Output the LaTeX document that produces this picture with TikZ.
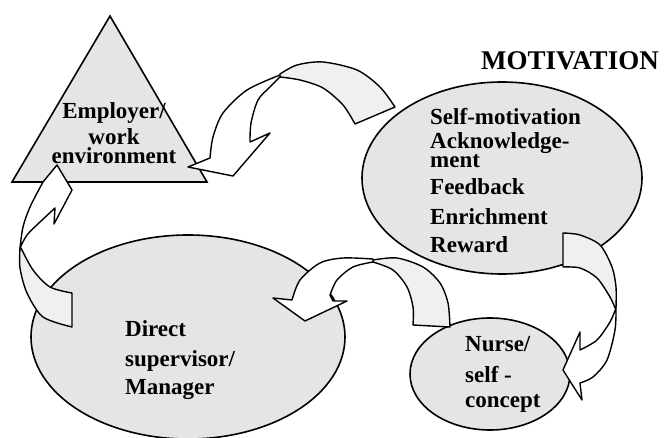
\documentclass[tikz,border=0pt]{standalone}
\usepackage{fontspec}
\setmainfont{Liberation Serif}
\usetikzlibrary{shapes.geometric}
\begin{document}
\begin{tikzpicture}[x=1pt,y=-1pt,
  shapeline/.style={draw=black,line width=1.6pt,fill=black!10},
  blob/.style={shapeline,ellipse,inner sep=0pt},
  tailband/.style={draw=black,line width=1.4pt,line join=round,fill=black!6},
  frontband/.style={draw=black,line width=1.4pt,line join=round,fill=white},
  lbl/.style={anchor=base,inner sep=0pt,font=\fontsize{23}{23}\selectfont\bfseries},
  lbll/.style={anchor=base west,inner sep=0pt,font=\fontsize{23}{23}\selectfont\bfseries}]
\useasboundingbox (0,0) rectangle (665,438);
% triangle
\coordinate (tA) at (110,16);
\coordinate (tB) at (12,182);
\coordinate (tC) at (207,182);
\draw[shapeline,line join=miter] (tA) -- (tB) -- (tC) -- cycle;
% ellipses
\node[blob,minimum width=280pt,minimum height=192pt] (motiv) at (502,178) {};
\node[blob,minimum width=314pt,minimum height=204pt] (super) at (188,337) {};
\node[blob,minimum width=160pt,minimum height=112pt] (nurse) at (490,374) {};
% arrow 1: motivation -> employer
\draw[tailband] plot[smooth] coordinates {(280,74) (297,65) (323,62) (357,70) (380,87) (395,107)}
  -- (355,124) -- plot[smooth] coordinates {(355,124) (343,105) (323,88) (300,80) (280,77)} -- cycle;
\draw[frontband] plot[smooth] coordinates {(280,75) (247,90) (223,113) (213,137) (210,158)}
  -- (188,167) -- (233,176) -- (270,133) -- (250,142)
  -- plot[smooth] coordinates {(250,142) (251,123) (258,100) (270,87) (280,77)} -- cycle;
% arrow 2: supervisor -> employer
\draw[tailband] plot[smooth] coordinates {(21,248) (33,270) (50,287) (72,293)}
  -- (72,327) -- plot[smooth] coordinates {(72,327) (43,317) (27,293) (20,268) (20,248)} -- cycle;
\draw[frontband] plot[smooth] coordinates {(20,248) (23,227) (30,207) (43,182)}
  -- (57,165) -- (72,190) -- (54,224) -- (55,208)
  -- plot[smooth] coordinates {(55,208) (40,222) (27,235) (20,248)} -- cycle;
% arrow 3: nurse -> supervisor
\draw[tailband] plot[smooth] coordinates {(373,260) (397,258) (423,267) (440,283) (448,303) (450,327)}
  -- (413,325) -- plot[smooth] coordinates {(413,325) (413,307) (407,287) (393,270) (373,262)} -- cycle;
\draw[frontband] plot[smooth] coordinates {(373,259) (343,258) (320,263) (300,280) (292,300)}
  -- (273,298) -- (305,321) -- (347,301) -- (333,301) -- (330,295)
  -- plot[smooth] coordinates {(330,295) (337,280) (353,267) (373,262)} -- cycle;
% arrow 4: motivation -> nurse
\draw[tailband] (563,233) -- plot[smooth] coordinates {(563,233) (580,235) (600,245) (612,267) (616,287) (616,308)}
  -- plot[smooth] coordinates {(615,308) (610,297) (597,278) (580,268) (563,267)} -- cycle;
\draw[frontband] plot[smooth] coordinates {(616,308) (615,330) (607,360) (593,377) (580,383)}
  -- (582,400) -- (563,370) -- (580,332) -- (580,350)
  -- plot[smooth] coordinates {(580,350) (597,340) (610,322) (616,308)} -- cycle;
% texts (multi-line nodes: base anchor = last line)
\node[lbl,align=center] (emp) at (114,164) {Employer/\\[3pt]work\\[-4pt]environment};
\node[anchor=base,inner sep=0pt,font=\fontsize{27}{27}\selectfont\bfseries] (title) at (570,70) {MOTIVATION};
\node[lbll] (m1) at (430,125) {Self-motivation};
\node[lbll,align=left,font=\fontsize{23}{18}\selectfont\bfseries] (m2) at (430,168) {Acknowledge-\\ment};
\node[lbll] (m4) at (430,195) {Feedback};
\node[lbll] (m5) at (430,225) {Enrichment};
\node[lbll] (m6) at (430,253) {Reward};
\node[lbll] (s1) at (125,337) {Direct};
\node[lbll] (s2) at (125,367) {supervisor/};
\node[lbll] (s3) at (125,395) {Manager};
\node[lbll] (n1) at (465,352) {Nurse/};
\node[lbll] (n2) at (465,383) {self -};
\node[lbll] (n3) at (465,408) {concept};
\end{tikzpicture}
\end{document}
